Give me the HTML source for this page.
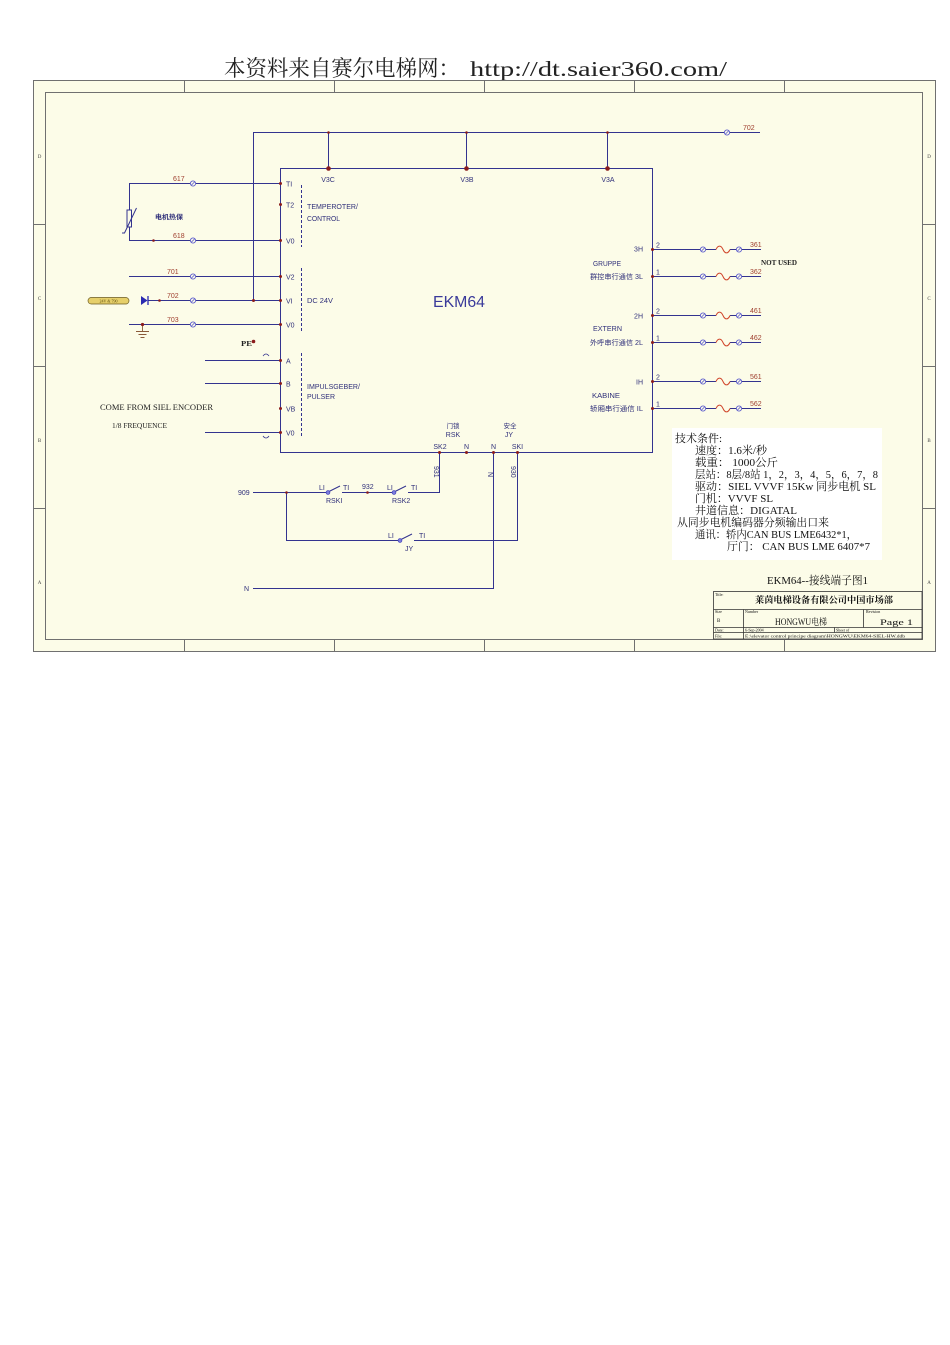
<!DOCTYPE html>
<html><head><meta charset="utf-8">
<style>
html,body{margin:0;padding:0;background:#fff;}
svg{display:block;}
</style></head><body>
<svg width="950" height="1345" viewBox="0 0 950 1345" xmlns="http://www.w3.org/2000/svg" xmlns:xlink="http://www.w3.org/1999/xlink">
<defs>
<g id="t"><circle cx="0" cy="0" r="2.6" fill="#fcfce8" stroke="#5a5acc" stroke-width="0.9"/><line x1="-1.6" y1="1.6" x2="1.6" y2="-1.6" stroke="#5a5acc" stroke-width="0.8"/></g>
<path id="sq" d="M0,0 C2,-4.5 5,-4.5 7,0 C9,4.5 12,4.5 14,0" fill="none" stroke="#d0452a" stroke-width="1"/>
</defs>
<rect width="950" height="1345" fill="#fff"/>

<!-- header -->
<text x="224" y="76" font-family="'Noto Serif CJK SC','Noto Sans CJK SC',serif" font-size="22" fill="#222" textLength="236" lengthAdjust="spacingAndGlyphs">本资料来自赛尔电梯网：</text>
<text x="470" y="76" font-family="'Liberation Serif','Noto Serif CJK SC',serif" font-size="21" fill="#222" textLength="257" lengthAdjust="spacingAndGlyphs">http://dt.saier360.com/</text>

<!-- frame -->
<rect x="33.5" y="80.5" width="902" height="571" fill="#fcfce8" stroke="#707070" stroke-width="1"/>
<rect x="45.5" y="92.5" width="877" height="547" fill="#fcfce8" stroke="#707070" stroke-width="1"/>
<g stroke="#707070" stroke-width="1">
<path d="M184.5 80.5V92.5M334.5 80.5V92.5M484.5 80.5V92.5M634.5 80.5V92.5M784.5 80.5V92.5"/>
<path d="M184.5 639.5V651.5M334.5 639.5V651.5M484.5 639.5V651.5M634.5 639.5V651.5M784.5 639.5V651.5"/>
<path d="M33.5 224.5H45.5M33.5 366.5H45.5M33.5 508.5H45.5"/>
<path d="M922.5 224.5H935.5M922.5 366.5H935.5M922.5 508.5H935.5"/>
</g>
<g font-family="'Liberation Serif',serif" font-size="5" fill="#444" text-anchor="middle">
<text x="39.5" y="158">D</text><text x="39.5" y="300">C</text><text x="39.5" y="442">B</text><text x="39.5" y="584">A</text>
<text x="929" y="158">D</text><text x="929" y="300">C</text><text x="929" y="442">B</text><text x="929" y="584">A</text>
</g>

<!-- wires -->
<g stroke="#33338f" stroke-width="1" fill="none">
<path d="M253 132.5H760"/>
<path d="M328.5 132V168M466.5 132V168M607.5 132V168"/>
<path d="M253.5 132V300"/>
<rect x="280.5" y="168.5" width="372" height="284"/>
<path d="M129.5 183.5H280M129.5 183V240.5M129 240.5H280M129 276.5H280M148 300.5H280M129 324.5H280"/>
<path d="M205 360.5H280M205 383.5H280M205 432.5H280"/>
<path d="M653 249.5H700M706 249.5H716M730 249.5H736M742 249.5H761"/>
<path d="M653 276.5H700M706 276.5H716M730 276.5H736M742 276.5H761"/>
<path d="M653 315.5H700M706 315.5H716M730 315.5H736M742 315.5H761"/>
<path d="M653 342.5H700M706 342.5H716M730 342.5H736M742 342.5H761"/>
<path d="M653 381.5H700M706 381.5H716M730 381.5H736M742 381.5H761"/>
<path d="M653 408.5H700M706 408.5H716M730 408.5H736M742 408.5H761"/>
<path d="M253 492.5H326M342 492.5H392M408 492.5H439.5V453"/>
<path d="M286.5 492V540.5H398M414 540.5H517.5V453"/>
<path d="M493.5 453V588.5H253"/>
<path d="M328 492L340 486M394 492L406 486M400 540L412 534"/>
<rect x="127" y="210" width="4.5" height="17" fill="#fcfce8"/>
<path d="M122 233H124.5L136.5 208"/>
<path d="M263 356Q266 352 269 356M263 436Q266 440 269 436" stroke-width="0.8"/>
</g>
<g fill="#7c7cdc" stroke="#4444bb" stroke-width="0.7">
<circle cx="328" cy="492.5" r="1.9"/><circle cx="394" cy="492.5" r="1.9"/><circle cx="400" cy="540.5" r="1.9"/>
</g>

<polygon points="141,296 141,305 147.5,300.5" fill="#2a2ab0"/>
<line x1="148" y1="296" x2="148" y2="305" stroke="#2a2ab0" stroke-width="1.3"/>
<rect x="88" y="297.5" width="41" height="6.5" rx="3.2" fill="#e6cf6a" stroke="#6a5a20" stroke-width="0.7"/>
<text x="108.5" y="302.5" font-family="'Liberation Serif',serif" font-size="4" fill="#5a4a10" text-anchor="middle">24V &amp; 790</text>
<g stroke="#8a5a3a" stroke-width="0.9">
<path d="M142.5 324V331M136 331.5H149M138.5 334.5H146.5M140.5 337.5H144.5"/>
</g>

<use xlink:href="#t" x="193" y="183.5"/><use xlink:href="#t" x="193" y="240.5"/><use xlink:href="#t" x="193" y="276.5"/><use xlink:href="#t" x="193" y="300.5"/><use xlink:href="#t" x="193" y="324.5"/>
<use xlink:href="#t" x="727" y="132.5"/>
<use xlink:href="#t" x="703" y="249.5"/><use xlink:href="#t" x="739" y="249.5"/><use xlink:href="#sq" x="716" y="249.5"/>
<use xlink:href="#t" x="703" y="276.5"/><use xlink:href="#t" x="739" y="276.5"/><use xlink:href="#sq" x="716" y="276.5"/>
<use xlink:href="#t" x="703" y="315.5"/><use xlink:href="#t" x="739" y="315.5"/><use xlink:href="#sq" x="716" y="315.5"/>
<use xlink:href="#t" x="703" y="342.5"/><use xlink:href="#t" x="739" y="342.5"/><use xlink:href="#sq" x="716" y="342.5"/>
<use xlink:href="#t" x="703" y="381.5"/><use xlink:href="#t" x="739" y="381.5"/><use xlink:href="#sq" x="716" y="381.5"/>
<use xlink:href="#t" x="703" y="408.5"/><use xlink:href="#t" x="739" y="408.5"/><use xlink:href="#sq" x="716" y="408.5"/>

<g fill="#8b1c1c">
<circle cx="328.5" cy="132.5" r="1.3"/><circle cx="466.5" cy="132.5" r="1.3"/><circle cx="607.5" cy="132.5" r="1.3"/>
<circle cx="328.5" cy="168.5" r="2.3"/><circle cx="466.5" cy="168.5" r="2.3"/><circle cx="607.5" cy="168.5" r="2.3"/>
<circle cx="280.5" cy="183.5" r="1.5"/><circle cx="280.5" cy="204.5" r="1.5"/><circle cx="280.5" cy="240.5" r="1.5"/><circle cx="280.5" cy="276.5" r="1.5"/><circle cx="280.5" cy="300.5" r="1.5"/><circle cx="280.5" cy="324.5" r="1.5"/>
<circle cx="280.5" cy="360.5" r="1.5"/><circle cx="280.5" cy="383.5" r="1.5"/><circle cx="280.5" cy="408.5" r="1.5"/><circle cx="280.5" cy="432.5" r="1.5"/>
<circle cx="652.5" cy="249.5" r="1.5"/><circle cx="652.5" cy="276.5" r="1.5"/><circle cx="652.5" cy="315.5" r="1.5"/><circle cx="652.5" cy="342.5" r="1.5"/><circle cx="652.5" cy="381.5" r="1.5"/><circle cx="652.5" cy="408.5" r="1.5"/>
<circle cx="439.5" cy="452.5" r="1.5"/><circle cx="466.5" cy="452.5" r="1.5"/><circle cx="493.5" cy="452.5" r="1.5"/><circle cx="517.5" cy="452.5" r="1.5"/>
<circle cx="253.5" cy="300.5" r="1.5"/><circle cx="153.5" cy="240.5" r="1.3"/><circle cx="159.5" cy="300.5" r="1.3"/><circle cx="142.5" cy="324.5" r="1.6"/>
<circle cx="253.5" cy="341.5" r="1.8"/><circle cx="286.5" cy="492.5" r="1.3"/><circle cx="367.5" cy="492.5" r="1.3"/>
</g>

<g font-family="'Liberation Sans','Noto Sans CJK SC',sans-serif" font-size="7" fill="#30307a">
<text x="286" y="186.5">TI</text><text x="286" y="207.5">T2</text><text x="286" y="243.5">V0</text><text x="286" y="279.5">V2</text><text x="286" y="303.5">VI</text><text x="286" y="327.5">V0</text>
<text x="286" y="363.5">A</text><text x="286" y="386.5">B</text><text x="286" y="411.5">VB</text><text x="286" y="435.5">V0</text>
<text x="307" y="209" textLength="51" lengthAdjust="spacingAndGlyphs">TEMPEROTER/</text>
<text x="307" y="221" textLength="33" lengthAdjust="spacingAndGlyphs">CONTROL</text>
<text x="307" y="303" textLength="26" lengthAdjust="spacingAndGlyphs">DC 24V</text>
<text x="307" y="389" textLength="53" lengthAdjust="spacingAndGlyphs">IMPULSGEBER/</text>
<text x="307" y="399" textLength="28" lengthAdjust="spacingAndGlyphs">PULSER</text>
<text x="328" y="182" text-anchor="middle">V3C</text><text x="467" y="182" text-anchor="middle">V3B</text><text x="608" y="182" text-anchor="middle">V3A</text>
<text x="643" y="251.5" text-anchor="end">3H</text><text x="593" y="266" textLength="28" lengthAdjust="spacingAndGlyphs">GRUPPE</text>
<text x="643" y="279" text-anchor="end" textLength="53" lengthAdjust="spacingAndGlyphs">群控串行通信 3L</text>
<text x="643" y="318.5" text-anchor="end">2H</text><text x="593" y="331" textLength="29" lengthAdjust="spacingAndGlyphs">EXTERN</text>
<text x="643" y="345" text-anchor="end" textLength="53" lengthAdjust="spacingAndGlyphs">外呼串行通信 2L</text>
<text x="643" y="384.5" text-anchor="end">IH</text><text x="592" y="398" textLength="28" lengthAdjust="spacingAndGlyphs">KABINE</text>
<text x="643" y="411" text-anchor="end" textLength="53" lengthAdjust="spacingAndGlyphs">轿厢串行通信 IL</text>
<text x="656" y="247.5">2</text><text x="656" y="274.5">1</text><text x="656" y="313.5">2</text><text x="656" y="340.5">1</text><text x="656" y="379.5">2</text><text x="656" y="406.5">1</text>
<text x="155" y="219" font-size="6.5" font-weight="bold" textLength="28" lengthAdjust="spacingAndGlyphs">电机热保</text>
<text x="453" y="428" text-anchor="middle" font-size="6.5">门锁</text><text x="453" y="437" text-anchor="middle">RSK</text>
<text x="510" y="428" text-anchor="middle" font-size="6.5">安全</text><text x="509" y="437" text-anchor="middle">JY</text>
<text x="440" y="449" text-anchor="middle">SK2</text><text x="466.5" y="449" text-anchor="middle">N</text><text x="493.5" y="449" text-anchor="middle">N</text><text x="517.5" y="449" text-anchor="middle">SKI</text>
<text x="238" y="495">909</text>
<text x="319" y="490">LI</text><text x="343" y="490">TI</text><text x="362" y="489">932</text>
<text x="387" y="490">LI</text><text x="411" y="490">TI</text>
<text x="326" y="503">RSKI</text><text x="392" y="503">RSK2</text>
<text x="388" y="538">LI</text><text x="419" y="538">TI</text><text x="405" y="551">JY</text>
<text x="244" y="591">N</text>
<text transform="translate(434,466) rotate(90)">931</text>
<text transform="translate(488,472) rotate(90)">N</text>
<text transform="translate(511,466) rotate(90)">930</text>
</g>

<g font-family="'Liberation Sans',sans-serif" font-size="7" fill="#a04030">
<text x="173" y="181">617</text><text x="173" y="238">618</text><text x="167" y="274">701</text><text x="167" y="298">702</text><text x="167" y="322">703</text>
<text x="743" y="130">702</text>
<text x="750" y="247">361</text><text x="750" y="274">362</text><text x="750" y="313">461</text><text x="750" y="340">462</text><text x="750" y="379">561</text><text x="750" y="406">562</text>
</g>

<text x="433" y="307" font-family="'Liberation Sans',sans-serif" font-size="16" fill="#3a3a9a" textLength="52" lengthAdjust="spacingAndGlyphs">EKM64</text>

<g font-family="'Liberation Serif',serif" fill="#222" font-weight="bold">
<text x="761" y="265" font-size="7" textLength="36" lengthAdjust="spacingAndGlyphs">NOT USED</text>
<text x="100" y="410" font-size="8" font-weight="normal" textLength="113" lengthAdjust="spacingAndGlyphs">COME FROM SIEL ENCODER</text>
<text x="112" y="428" font-size="7" font-weight="normal" textLength="55" lengthAdjust="spacingAndGlyphs">1/8 FREQUENCE</text>
<text x="241" y="346" font-size="7" textLength="11" lengthAdjust="spacingAndGlyphs">PE</text>
</g>

<g stroke="#33338f" stroke-width="1" stroke-dasharray="3,2">
<path d="M301.5 185V247M301.5 268V331M301.5 353V438"/>
</g>

<rect x="672" y="428" width="210" height="132" fill="#ffffff"/>
<g font-family="'Liberation Serif','Noto Serif CJK SC',serif" font-size="11" fill="#111">
<text x="675" y="442" textLength="47" lengthAdjust="spacingAndGlyphs">技术条件:</text>
<text x="695" y="454" textLength="72" lengthAdjust="spacingAndGlyphs">速度：1.6米/秒</text>
<text x="695" y="466" textLength="83" lengthAdjust="spacingAndGlyphs">载重： 1000公斤</text>
<text x="695" y="478" textLength="183" lengthAdjust="spacingAndGlyphs">层站：8层/8站 1，2，3，4，5，6，7，8</text>
<text x="695" y="490" textLength="181" lengthAdjust="spacingAndGlyphs">驱动：SIEL VVVF 15Kw 同步电机 SL</text>
<text x="695" y="502" textLength="78" lengthAdjust="spacingAndGlyphs">门机：VVVF SL</text>
<text x="695" y="514" textLength="102" lengthAdjust="spacingAndGlyphs">井道信息：DIGATAL</text>
<text x="677" y="526" textLength="152" lengthAdjust="spacingAndGlyphs">从同步电机编码器分频输出口来</text>
<text x="695" y="538" textLength="162" lengthAdjust="spacingAndGlyphs">通讯：轿内CAN BUS LME6432*1，</text>
<text x="727" y="550" textLength="143" lengthAdjust="spacingAndGlyphs">厅门： CAN BUS LME 6407*7</text>
<text x="767" y="584" textLength="101" lengthAdjust="spacingAndGlyphs">EKM64--接线端子图1</text>
</g>

<g stroke="#333" stroke-width="0.8" fill="none">
<rect x="713.5" y="591.5" width="208.5" height="47.5"/>
<path d="M713.5 609.5H922M713.5 627.5H922M713.5 632.5H922M743.5 609.5V639M863.5 609.5V627.5M834.5 627.5V632.5"/>
</g>
<g font-family="'Liberation Serif','Noto Serif CJK SC',serif" fill="#111">
<text x="715" y="596" font-size="4">Title:</text>
<text x="755" y="603" font-size="9" font-weight="bold" textLength="138" lengthAdjust="spacingAndGlyphs">莱茵电梯设备有限公司中国市场部</text>
<text x="715" y="613" font-size="4">Size</text>
<text x="717" y="622" font-size="5">B</text>
<text x="745" y="613" font-size="4">Number</text>
<text x="775" y="625" font-size="9" textLength="52" lengthAdjust="spacingAndGlyphs">HONGWU电梯</text>
<text x="866" y="613" font-size="4">Revision</text>
<text x="880" y="625" font-size="8.5" textLength="33" lengthAdjust="spacingAndGlyphs">Page 1</text>
<text x="715" y="631.5" font-size="4">Date:</text>
<text x="745" y="631.5" font-size="4">6-Sep-2004</text>
<text x="836" y="631.5" font-size="4">Sheet of</text>
<text x="715" y="637.5" font-size="4">File:</text>
<text x="745" y="637.5" font-size="3.6" textLength="160" lengthAdjust="spacingAndGlyphs">E:\elevator control principe diagram\HONGWU\EKM64-SIEL-HW.ddb</text>
</g>
</svg>
</body></html>
